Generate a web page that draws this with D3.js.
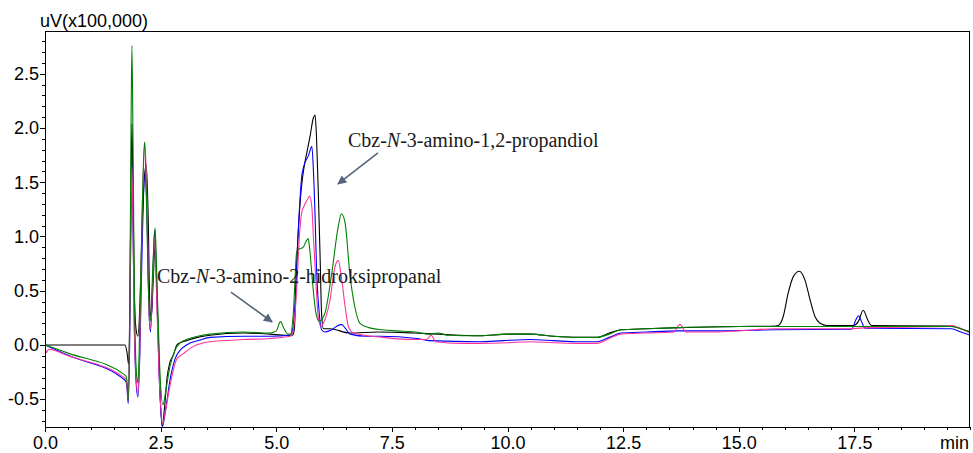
<!DOCTYPE html>
<html>
<head>
<meta charset="utf-8">
<script src="https://cdn.jsdelivr.net/npm/d3@7"></script>
<style>
  html, body { margin: 0; padding: 0; background: #fff; }
  svg { display: block; }
</style>
</head>
<body>
<svg id="chart" width="973" height="453"></svg>
<script>
// ---------- DATA ----------
const xMajorTicks = [0, 2.5, 5, 7.5, 10, 12.5, 15, 17.5];
const xTickLabels = ["0.0", "2.5", "5.0", "7.5", "10.0", "12.5", "15.0", "17.5"];
const yMajorTicks = [-0.5, 0, 0.5, 1.0, 1.5, 2.0, 2.5];
const yTickLabels = ["-0.5", "0.0", "0.5", "1.0", "1.5", "2.0", "2.5"];
const yAxisTitle = "uV(x100,000)";
const xUnitLabel = "min";

// time (min), signal (x100,000 uV)
const blackTrace = [[0,0],[1.73,0],[1.77,-0.06],[1.81,-0.18],[1.84,0.6],[1.86,1.5],[1.88,2.04],[1.90,1.5],[1.93,0.5],[1.97,0.14],[2.01,0.08],[2.05,0.35],[2.10,1.1],[2.15,1.55],[2.19,1.66],[2.23,1.2],[2.27,0.32],[2.30,0.26],[2.34,0.6],[2.38,0.92],[2.42,0.5],[2.47,-0.2],[2.53,-0.75],[2.58,-0.6],[2.64,-0.3],[2.70,-0.16],[2.77,-0.1],[2.85,0.0],[2.92,0.02],[3.06,0.04],[3.3,0.07],[3.57,0.09],[4.29,0.11],[4.86,0.10],[5.2,0.09],[5.35,0.09],[5.39,0.14],[5.44,0.72],[5.52,1.34],[5.58,1.58],[5.66,1.77],[5.73,1.92],[5.80,2.09],[5.84,2.12],[5.87,1.92],[5.91,1.40],[5.95,0.78],[5.98,0.29],[6.02,0.15],[6.16,0.15],[6.59,0.11],[7.2,0.12],[8.0,0.11],[8.5,0.1],[9.4,0.085],[10.0,0.1],[10.5,0.1],[11.0,0.08],[11.5,0.07],[11.93,0.07],[12.2,0.11],[12.45,0.14],[13.0,0.15],[13.7,0.16],[15.0,0.17],[15.8,0.175],[15.86,0.18],[15.96,0.26],[16.07,0.48],[16.18,0.63],[16.31,0.68],[16.43,0.60],[16.54,0.42],[16.65,0.26],[16.76,0.2],[16.9,0.18],[17.48,0.18],[17.59,0.22],[17.69,0.32],[17.80,0.22],[17.87,0.18],[19.6,0.175],[19.8,0.15],[20,0.12]];

const blueTrace = [[0,0],[0.5,-0.095],[1.74,-0.33],[1.77,-0.38],[1.80,-0.54],[1.83,0.0],[1.86,1.2],[1.88,1.67],[1.90,1.2],[1.93,0.2],[1.97,-0.35],[2.01,-0.48],[2.05,-0.1],[2.10,0.9],[2.16,1.58],[2.20,1.3],[2.25,0.3],[2.28,0.12],[2.33,0.6],[2.37,1.06],[2.41,0.6],[2.47,-0.3],[2.54,-0.75],[2.60,-0.62],[2.70,-0.33],[2.81,-0.13],[2.92,-0.05],[3.06,0.0],[3.35,0.045],[3.57,0.07],[4.29,0.08],[4.86,0.08],[5.3,0.09],[5.36,0.15],[5.40,0.35],[5.47,1.0],[5.55,1.55],[5.59,1.64],[5.70,1.75],[5.77,1.83],[5.80,1.64],[5.84,1.18],[5.87,0.72],[5.93,0.29],[5.98,0.14],[6.05,0.12],[6.2,0.14],[6.3,0.17],[6.41,0.19],[6.5,0.15],[6.6,0.1],[6.95,0.08],[7.24,0.08],[8.04,0.06],[8.3,0.04],[9.4,0.03],[9.9,0.04],[10.5,0.05],[11.0,0.04],[11.5,0.03],[11.93,0.03],[12.2,0.07],[12.45,0.11],[13.0,0.12],[13.7,0.13],[14.5,0.13],[15.8,0.14],[17.44,0.145],[17.53,0.23],[17.59,0.27],[17.65,0.22],[17.73,0.155],[19.6,0.15],[19.8,0.12],[20,0.09]];

const pinkTrace = [[0,0],[0.03,-0.07],[0.08,-0.04],[0.5,-0.1],[1.74,-0.31],[1.77,-0.36],[1.80,-0.5],[1.83,0.1],[1.86,1.3],[1.88,1.64],[1.90,1.2],[1.93,0.2],[1.97,-0.3],[2.01,-0.45],[2.05,0.0],[2.10,1.2],[2.16,1.87],[2.20,1.4],[2.25,0.3],[2.28,0.15],[2.33,0.6],[2.37,1.0],[2.41,0.5],[2.47,-0.3],[2.54,-0.73],[2.60,-0.62],[2.70,-0.38],[2.85,-0.13],[2.99,-0.08],[3.2,-0.015],[3.57,0.03],[4.29,0.05],[4.86,0.06],[5.3,0.08],[5.36,0.12],[5.44,0.5],[5.50,1.0],[5.55,1.22],[5.59,1.27],[5.66,1.33],[5.72,1.37],[5.77,1.27],[5.80,1.02],[5.86,0.56],[5.91,0.25],[5.97,0.17],[6.02,0.2],[6.16,0.41],[6.27,0.72],[6.34,0.78],[6.41,0.62],[6.49,0.35],[6.56,0.17],[6.67,0.11],[7.3,0.07],[8.0,0.05],[8.25,0.05],[8.35,0.09],[8.45,0.03],[9.0,0.015],[9.4,0.015],[10.0,0.02],[10.5,0.03],[11.0,0.02],[11.5,0.015],[11.93,0.015],[12.2,0.06],[12.45,0.1],[13.0,0.11],[13.6,0.12],[13.68,0.17],[13.73,0.19],[13.8,0.15],[13.85,0.12],[14.5,0.12],[15.0,0.13],[15.8,0.15],[17.4,0.15],[17.8,0.16],[19.5,0.17],[19.6,0.18],[19.75,0.16],[20,0.11]];

const greenTrace = [[0,0],[0.5,-0.075],[1.74,-0.28],[1.77,-0.32],[1.80,-0.50],[1.83,0.2],[1.86,2.0],[1.88,2.76],[1.90,2.0],[1.93,0.6],[1.97,-0.2],[2.01,-0.35],[2.05,0.2],[2.10,1.2],[2.15,1.87],[2.19,1.4],[2.23,0.6],[2.28,0.22],[2.33,0.7],[2.38,1.08],[2.42,0.6],[2.48,-0.2],[2.55,-0.55],[2.62,-0.4],[2.70,-0.2],[2.81,-0.05],[2.92,0.02],[3.06,0.05],[3.3,0.08],[3.57,0.1],[4.29,0.12],[4.86,0.11],[5.0,0.13],[5.09,0.215],[5.17,0.15],[5.25,0.1],[5.31,0.1],[5.37,0.3],[5.44,0.85],[5.47,0.88],[5.58,0.9],[5.65,0.96],[5.69,0.98],[5.72,0.9],[5.79,0.55],[5.86,0.29],[5.93,0.22],[6.05,0.29],[6.2,0.66],[6.34,1.09],[6.41,1.21],[6.49,1.12],[6.59,0.66],[6.70,0.35],[6.81,0.2],[7.0,0.16],[7.3,0.14],[7.6,0.13],[8.0,0.12],[8.3,0.1],[8.5,0.11],[8.7,0.09],[9.4,0.085],[10.0,0.1],[10.5,0.1],[11.0,0.08],[11.5,0.07],[11.93,0.07],[12.2,0.1],[12.45,0.14],[13.0,0.15],[13.7,0.16],[15.0,0.17],[17.4,0.17],[17.8,0.17],[19.6,0.17],[19.8,0.15],[20,0.12]];

const seriesNames = ["black", "blue", "pink", "green"];
const seriesColors = ["#000000", "#0000ff", "#ff3399", "#008000"];
const seriesData = [blackTrace, blueTrace, pinkTrace, greenTrace];

// annotations: label position and arrow (tail -> head) in data units
const annotationTexts = [["Cbz-", "N", "-3-amino-1,2-propandiol"], ["Cbz-", "N", "-3-amino-2-hidroksipropanal"]];
const annotationAnchors = [[6.55, 1.825], [2.42, 0.571]];
const arrowTails = [[7.2, 1.77], [4.02, 0.488]];
const arrowHeads = [[6.335, 1.484], [4.91, 0.212]];

// ---------- LAYOUT ----------
const W = 973, H = 453;
const margin = { left: 45, top: 31, right: 3, bottom: 26 };
const innerW = W - margin.left - margin.right;
const innerH = H - margin.top - margin.bottom;

const x = d3.scaleLinear().domain([0, 20]).range([0, innerW]);
const y = d3.scaleLinear().domain([-0.756, 2.894]).range([innerH, 0]);

const svg = d3.select("#chart");
const g = svg.append("g").attr("transform", `translate(${margin.left},${margin.top})`);

g.append("defs").append("clipPath").attr("id", "plotclip")
  .append("rect").attr("x", 0).attr("y", 0).attr("width", innerW).attr("height", innerH);

svg.select("defs").append("marker")
  .attr("id", "arrowhead").attr("viewBox", "0 0 10 10")
  .attr("refX", 9).attr("refY", 5).attr("markerWidth", 11).attr("markerHeight", 9)
  .attr("markerUnits", "userSpaceOnUse").attr("orient", "auto")
  .append("path").attr("d", "M0,0 L10,5 L0,10 Z").attr("fill", "#56657c");

// ---------- TRACES ----------
const line = d3.line().x(d => x(d[0])).y(d => y(d[1])).curve(d3.curveMonotoneX);
const traces = g.append("g").attr("clip-path", "url(#plotclip)");
seriesData.forEach((data, i) => {
  traces.append("path")
    .datum(data)
    .attr("class", "trace " + seriesNames[i])
    .attr("fill", "none")
    .attr("stroke", seriesColors[i])
    .attr("stroke-width", 1.1)
    .attr("stroke-linejoin", "round")
    .attr("d", line);
});

// ---------- AXES ----------
const fontSans = "'Liberation Sans', Arial, sans-serif";

// Y axis: minor ticks every 0.1, major every 0.5
const yMinor = d3.range(-7, 29).map(k => +(k / 10).toFixed(1));
const yAxisMinor = d3.axisLeft(y).tickValues(yMinor).tickSize(3).tickFormat("");
const yAxisMajor = d3.axisLeft(y).tickValues(yMajorTicks).tickSize(5).tickPadding(1)
  .tickFormat((d, i) => yTickLabels[i]);
const gyMinor = g.append("g").call(yAxisMinor);
const gyMajor = g.append("g").call(yAxisMajor);
[gyMinor, gyMajor].forEach(a => {
  a.select(".domain").remove();
  a.selectAll("line").attr("stroke", "#000").attr("shape-rendering", "crispEdges");
});
gyMajor.selectAll("text").attr("font-family", fontSans).attr("font-size", 18).attr("fill", "#000");

// X axis: minor ticks every 0.5, major every 2.5
const xMinor = d3.range(0, 41).map(k => k * 0.5);
const xAxisMinor = d3.axisBottom(x).tickValues(xMinor).tickSize(3).tickFormat("");
const xAxisMajor = d3.axisBottom(x).tickValues(xMajorTicks).tickSize(5).tickPadding(4)
  .tickFormat((d, i) => xTickLabels[i]);
const gxMinor = g.append("g").attr("transform", `translate(0,${innerH})`).call(xAxisMinor);
const gxMajor = g.append("g").attr("transform", `translate(0,${innerH})`).call(xAxisMajor);
[gxMinor, gxMajor].forEach(a => {
  a.select(".domain").remove();
  a.selectAll("line").attr("stroke", "#000").attr("shape-rendering", "crispEdges");
});
gxMajor.selectAll("text").attr("font-family", fontSans).attr("font-size", 18).attr("fill", "#000");

// unit label "min" at the right end of the x axis
g.append("text")
  .attr("x", x(20) - 1).attr("y", innerH + 22)
  .attr("text-anchor", "end")
  .attr("font-family", fontSans).attr("font-size", 18).attr("fill", "#000")
  .text(xUnitLabel);

// frame
g.append("rect")
  .attr("x", 0.5).attr("y", 0.5).attr("width", innerW - 1).attr("height", innerH - 0.5)
  .attr("fill", "none").attr("stroke", "#000").attr("stroke-width", 1)
  .attr("shape-rendering", "crispEdges");

// Y title
svg.append("text")
  .attr("x", 40).attr("y", 27)
  .attr("font-family", fontSans).attr("font-size", 18).attr("fill", "#000")
  .text(yAxisTitle);

// ---------- ANNOTATIONS ----------
const ann = g.append("g");
annotationTexts.forEach((parts, i) => {
  const t = ann.append("text")
    .attr("x", x(annotationAnchors[i][0]))
    .attr("y", y(annotationAnchors[i][1]))
    .attr("font-family", "'Liberation Serif', 'Times New Roman', serif")
    .attr("font-size", 20).attr("fill", "#1a1a1a");
  t.append("tspan").text(parts[0]);
  t.append("tspan").attr("font-style", "italic").text(parts[1]);
  t.append("tspan").text(parts[2]);

  ann.append("line")
    .attr("x1", x(arrowTails[i][0])).attr("y1", y(arrowTails[i][1]))
    .attr("x2", x(arrowHeads[i][0])).attr("y2", y(arrowHeads[i][1]))
    .attr("stroke", "#56657c").attr("stroke-width", 1.6)
    .attr("marker-end", "url(#arrowhead)");
});
</script>
</body>
</html>
